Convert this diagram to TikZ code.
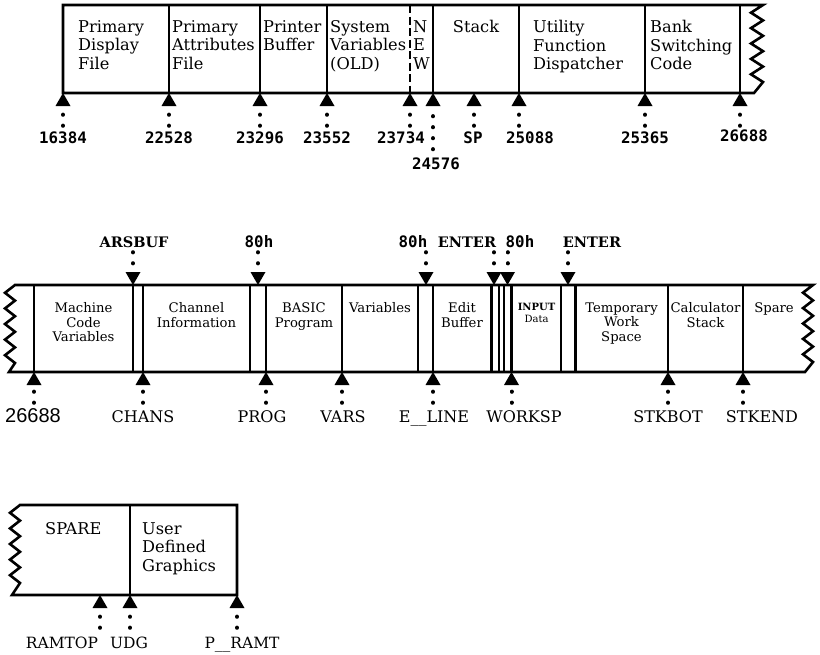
\documentclass[tikz,border=0pt]{standalone}
\usepackage{fontspec}
\setmainfont{DejaVu Serif}
\newfontfamily\monofont{DejaVu Sans Mono}
\newfontfamily\sansfont{Liberation Sans}
\usepackage{tikz}
\usetikzlibrary{arrows.meta}
\tikzset{
  wall/.style={line width=2.6pt, draw=black, line join=miter},
  ptr/.style={line width=4pt, line cap=round, dash pattern=on 0.2pt off 10.8pt,
    -{Triangle[width=15pt,length=13pt,line width=0pt]}}
}

\begin{document}
\begin{tikzpicture}[x=1pt, y=-1pt,
  sep/.style={line width=2.4pt},
  cellA/.style={anchor=north west, align=left, inner sep=0pt, font=\fontsize{16.2}{18.5}\selectfont},
  cellB/.style={anchor=north, align=center, inner sep=0pt, font=\fontsize{13.2}{14.5}\selectfont},
  lab/.style={inner sep=0pt, text height=11pt, text depth=0pt, anchor=base},
  num/.style={lab, font=\monofont\bfseries\fontsize{15.8}{18}\selectfont},
  key/.style={lab, font=\bfseries\fontsize{14.5}{16}\selectfont},
  sym/.style={lab, font=\fontsize{16}{18}\selectfont},
  big/.style={lab, font=\sansfont\fontsize{20}{22}\selectfont}
]
\useasboundingbox (0,0) rectangle (820,654);

% first bank
\draw[wall] (754,93) -- (63,93) -- (63,5) -- (763,5)
  foreach \k in {1,...,5} {-- (751,{5+15.4*\k-7.7}) -- (763,{5+15.4*\k})} -- cycle;
\foreach \x in {169,260,327,433,519,645,740} \draw[sep] (\x,5) -- (\x,93);
\draw[line width=1.6pt, dash pattern=on 8pt off 3.5pt] (410,5) -- (410,93);

\node[cellA] (pdf) at (78,20) {Primary\\Display\\File};
\node[cellA] (paf) at (172,20) {Primary\\Attributes\\File};
\node[cellA] (pbuf) at (263,20) {Printer\\Buffer};
\node[cellA] (sysold) at (330,20) {System\\Variables\\(OLD)};
\node[cellA] (sysnew) at (413,20) {N\\E\\W};
\node[cellA, anchor=north] (stack) at (476,20) {Stack};
\node[cellA] (ufd) at (533,20) {Utility\\Function\\Dispatcher};
\node[cellA] (bank) at (650,20) {Bank\\Switching\\Code};

\foreach \x/\t/\lx in {63/16384/63, 169/22528/169, 260/23296/260, 327/23552/327,
    410/23734/401, 474/SP/473, 519/25088/530, 645/25365/645} {
  \coordinate (p\t) at (\x,93);
  \node[num] (l\t) at (\lx,143) {\t};
  \draw[ptr, shorten <=6pt] (p\t |- l\t.north) -- (p\t);
}
\coordinate (p24576) at (433,93);
\node[num] (l24576) at (436,169) {24576};
\draw[ptr, shorten <=8.5pt] (p24576 |- l24576.north) -- (p24576);
\coordinate (ptop) at (740,93);
\node[num] (ltop) at (744,141) {26688};
\draw[ptr, shorten <=4pt] (ptop |- ltop.north) -- (ptop);

% second bank
\draw[wall] (805,372) -- (9,372) -- (15,363)
  foreach \k in {4,...,0} {-- (5,{285+15.6*\k+7.8}) -- (15,{285+15.6*\k})}
  -- (813,285)
  foreach \k in {1,...,5} {-- (803,{285+15.4*\k-7.7}) -- (813,{285+15.4*\k})} -- cycle;
\foreach \x in {34,133,143,250,266,342,418,433,491.5,511.5,561,575.5,668,743}
  \draw[sep] (\x,285) -- (\x,372);
\foreach \x in {498.5,504} \draw[line width=2pt] (\x,285) -- (\x,372);

\node[cellB] (mcv) at (83.5,302.5) {Machine\\Code\\Variables};
\node[cellB] (chinf) at (196.5,302.5) {Channel\\Information};
\node[cellB] (basic) at (304,302.5) {BASIC\\Program};
\node[cellB] (vars) at (380,302.5) {Variables};
\node[cellB] (edit) at (462,302.5) {Edit\\Buffer};
\node[cellB, font=\fontsize{10}{12.5}\selectfont] (input) at (536.5,303) {\textbf{INPUT}\\Data};
\node[cellB] (tws) at (621.5,302.5) {Temporary\\Work\\Space};
\node[cellB] (calc) at (705.5,302.5) {Calculator\\Stack};
\node[cellB] (spare) at (774,302.5) {Spare};

\foreach \x/\n/\s/\t/\lx in {133/ars/key/ARSBUF/134, 258/h1/num/80h/259, 426/h2/num/80h/413,
    494/e1/key/ENTER/467, 507.5/h3/num/80h/520, 568/e2/key/ENTER/592} {
  \coordinate (p\n) at (\x,285);
  \node[\s] (l\n) at (\lx,247) {\t};
  \draw[ptr, shorten <=5pt] (p\n |- l\n.south) -- (p\n);
}
\foreach \x/\n/\s/\t/\lx in {34/base/big/26688/33, 143/chans/sym/CHANS/143, 266/prog/sym/PROG/262,
    342/vars/sym/VARS/343, 433/eline/sym/E\_\_LINE/434, 511.5/worksp/sym/WORKSP/524,
    668/stkbot/sym/STKBOT/668, 743/stkend/sym/STKEND/762} {
  \coordinate (p\n) at (\x,372);
  \node[\s] (l\n) at (\lx,422) {\t};
  \draw[ptr, shorten <=8pt] (p\n |- l\n.north) -- (p\n);
}

% third bank
\draw[wall] (237,595) -- (12,595) -- (20,583)
  foreach \k in {4,...,0} {-- (10,{505+15.6*\k+7.8}) -- (20,{505+15.6*\k})}
  -- (237,505) -- cycle;
\draw[sep] (130,505) -- (130,595);

\node[cellA] (sparetxt) at (45,522) {SPARE};
\node[cellA] (udgtxt) at (142,522) {User\\Defined\\Graphics};

\foreach \x/\n/\t/\lx in {100/ramtop/RAMTOP/62, 130/udg/UDG/129, 237/pramt/P\_\_RAMT/242} {
  \coordinate (p\n) at (\x,595);
  \node[sym, font=\fontsize{15.5}{18}\selectfont] (l\n) at (\lx,648) {\t};
  \draw[ptr, shorten <=9pt] (p\n |- l\n.north) -- (p\n);
}
\end{tikzpicture}
\end{document}
